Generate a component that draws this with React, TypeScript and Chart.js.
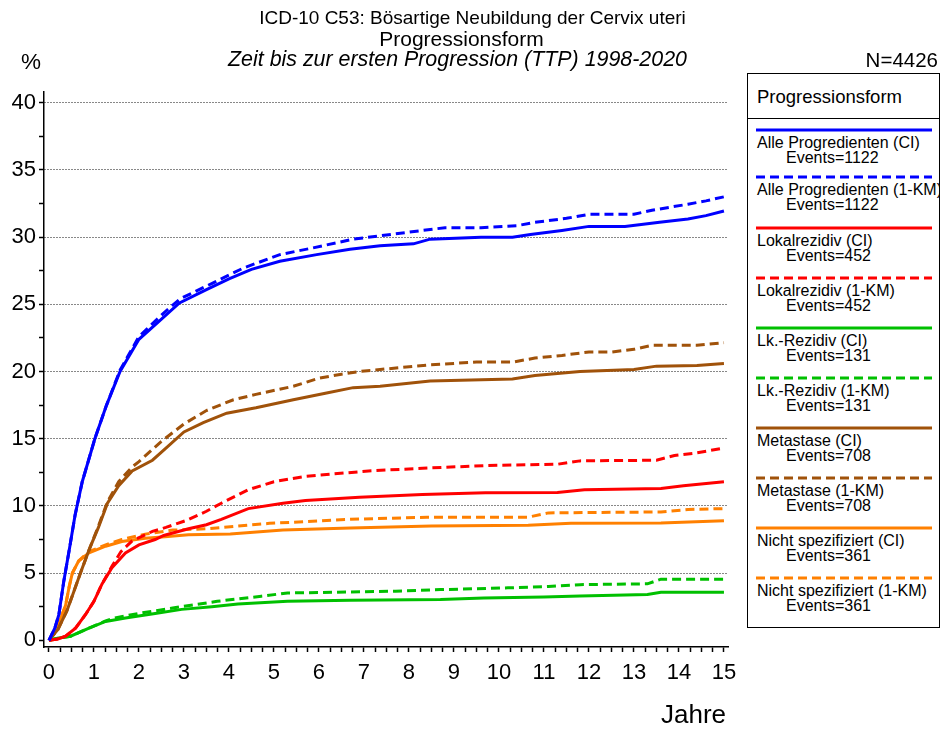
import React, { useEffect, useRef } from "react";
import { Chart, registerables } from "chart.js";

Chart.register(...registerables);

// ---- data (years, cumulative %) ----
const alleCiT = [0, 0.13, 0.22, 0.33, 0.46, 0.58, 0.74, 1.02, 1.28, 1.58, 2.0, 2.5, 2.9, 3.5, 4.0, 4.5, 5.13, 5.95, 6.69, 7.36, 8.1, 8.47, 9.6, 10.3, 10.7, 11.4, 12.0, 12.8, 13.57, 14.2, 14.6, 15.0];
const alleCiV = [0, 0.9, 1.9, 4.4, 6.9, 9.3, 11.8, 15.0, 17.5, 20.0, 22.4, 23.9, 25.1, 26.1, 26.9, 27.6, 28.2, 28.7, 29.1, 29.35, 29.5, 29.85, 30.0, 30.0, 30.2, 30.5, 30.8, 30.8, 31.1, 31.35, 31.6, 31.95];
const alleKmT = [0, 0.13, 0.22, 0.33, 0.46, 0.58, 0.74, 1.02, 1.28, 1.58, 2.0, 2.5, 2.91, 3.65, 4.32, 5.13, 5.87, 6.76, 7.36, 8.3, 8.8, 9.6, 10.4, 10.8, 11.5, 12.0, 13.0, 13.4, 14.2, 14.6, 15.0];
const alleKmV = [0, 0.9, 1.9, 4.4, 6.9, 9.3, 11.8, 15.0, 17.5, 20.1, 22.6, 24.2, 25.4, 26.6, 27.7, 28.7, 29.2, 29.85, 30.1, 30.5, 30.7, 30.7, 30.85, 31.1, 31.4, 31.7, 31.7, 32.0, 32.45, 32.7, 33.0];

const lokalCiT = [0, 0.2, 0.37, 0.59, 0.81, 1.0, 1.18, 1.4, 1.7, 2.0, 2.36, 2.55, 3.1, 3.5, 3.83, 4.43, 5.2, 5.7, 6.9, 8.3, 9.7, 11.3, 11.9, 13.6, 14.1, 15.0];
const lokalCiV = [0, 0.1, 0.3, 0.9, 1.9, 2.9, 4.2, 5.4, 6.5, 7.1, 7.5, 7.8, 8.3, 8.6, 9.0, 9.8, 10.2, 10.4, 10.65, 10.85, 10.97, 11.0, 11.2, 11.3, 11.5, 11.8];
const lokalKmT = [0, 0.2, 0.37, 0.59, 0.81, 1.0, 1.18, 1.4, 1.6, 1.85, 2.3, 2.6, 3.04, 3.5, 3.83, 4.43, 5.0, 5.7, 7.1, 8.3, 9.7, 11.3, 11.8, 13.5, 13.9, 14.3, 15.0];
const lokalKmV = [0, 0.1, 0.3, 0.9, 1.9, 2.9, 4.2, 5.5, 6.6, 7.4, 8.1, 8.4, 8.9, 9.6, 10.2, 11.2, 11.8, 12.2, 12.6, 12.8, 13.0, 13.1, 13.35, 13.4, 13.75, 13.9, 14.3];

const lkCiT = [0, 0.22, 0.48, 0.89, 1.26, 1.7, 2.36, 2.95, 3.62, 4.2, 5.3, 6.7, 8.7, 9.66, 11.0, 11.8, 13.3, 13.6, 15.0];
const lkCiV = [0, 0.17, 0.3, 0.9, 1.4, 1.66, 2.0, 2.3, 2.5, 2.7, 2.9, 2.98, 3.03, 3.15, 3.23, 3.3, 3.4, 3.58, 3.58];
const lkKmT = [0, 0.22, 0.48, 0.89, 1.26, 1.46, 2.0, 2.75, 3.74, 4.72, 5.3, 7.7, 8.7, 10.2, 11.1, 11.8, 13.3, 13.6, 15.0];
const lkKmV = [0, 0.17, 0.3, 0.9, 1.45, 1.66, 2.0, 2.4, 2.9, 3.28, 3.52, 3.65, 3.77, 3.9, 4.0, 4.14, 4.2, 4.55, 4.55];

const metaCiT = [0, 0.2, 0.4, 0.55, 0.7, 0.9, 1.1, 1.3, 1.55, 1.85, 2.3, 2.6, 3.0, 3.43, 3.95, 4.6, 5.43, 6.17, 6.76, 7.36, 8.47, 10.3, 10.8, 11.8, 13.0, 13.5, 14.4, 15.0];
const metaCiV = [0, 0.8, 2.2, 3.6, 5.0, 6.8, 8.4, 10.2, 11.5, 12.6, 13.4, 14.3, 15.5, 16.2, 16.9, 17.3, 17.9, 18.4, 18.8, 18.9, 19.3, 19.45, 19.7, 20.0, 20.15, 20.4, 20.45, 20.6];
const metaKmT = [0, 0.2, 0.4, 0.55, 0.7, 0.9, 1.1, 1.3, 1.55, 1.85, 2.0, 2.5, 3.0, 3.5, 4.1, 4.6, 5.43, 6.0, 6.5, 6.9, 7.36, 8.47, 9.5, 10.3, 10.8, 11.4, 12.0, 12.5, 13.0, 13.4, 14.4, 15.0];
const metaKmV = [0, 0.8, 2.2, 3.6, 5.0, 6.8, 8.5, 10.3, 11.8, 12.9, 13.3, 14.8, 16.1, 17.1, 17.9, 18.3, 18.9, 19.5, 19.8, 20.0, 20.15, 20.5, 20.7, 20.7, 21.0, 21.2, 21.45, 21.45, 21.65, 21.95, 21.95, 22.15];

const nichtCiT = [0, 0.18, 0.37, 0.45, 0.52, 0.66, 0.89, 1.26, 1.62, 2.14, 2.58, 3.1, 4.03, 5.2, 6.7, 8.5, 10.65, 11.6, 13.6, 15.0];
const nichtCiV = [0, 0.9, 2.6, 4.0, 5.0, 5.9, 6.5, 7.0, 7.35, 7.6, 7.7, 7.85, 7.9, 8.2, 8.36, 8.5, 8.56, 8.7, 8.73, 8.9];
const nichtKmT = [0, 0.18, 0.37, 0.45, 0.52, 0.66, 0.89, 1.26, 1.62, 2.14, 2.75, 3.5, 4.2, 4.9, 6.7, 8.4, 10.65, 11.1, 13.6, 14.2, 15.0];
const nichtKmV = [0, 0.9, 2.6, 4.0, 5.0, 5.9, 6.6, 7.1, 7.5, 7.9, 8.2, 8.3, 8.5, 8.7, 9.0, 9.16, 9.16, 9.48, 9.55, 9.73, 9.8];

const yTickValues = [0, 2.5, 5, 7.5, 10, 12.5, 15, 17.5, 20, 22.5, 25, 27.5, 30, 32.5, 35, 37.5, 40];
const xTickValues = [0, 0.25, 0.5, 0.75, 1, 1.25, 1.5, 1.75, 2, 2.25, 2.5, 2.75, 3, 3.25, 3.5, 3.75, 4, 4.25, 4.5, 4.75, 5, 5.25, 5.5, 5.75, 6, 6.25, 6.5, 6.75, 7, 7.25, 7.5, 7.75, 8, 8.25, 8.5, 8.75, 9, 9.25, 9.5, 9.75, 10, 10.25, 10.5, 10.75, 11, 11.25, 11.5, 11.75, 12, 12.25, 12.5, 12.75, 13, 13.25, 13.5, 13.75, 14, 14.25, 14.5, 14.75, 15];

const BLUE = "#0000ff";
const RED = "#ff0000";
const GREEN = "#00c000";
const BROWN = "#a0520a";
const ORANGE = "#ff8000";

const seriesDefs = [
  { label: "Alle Progredienten (CI)", events: "Events=1122", t: alleCiT, v: alleCiV, color: BLUE, dashed: false },
  { label: "Alle Progredienten (1-KM)", events: "Events=1122", t: alleKmT, v: alleKmV, color: BLUE, dashed: true },
  { label: "Lokalrezidiv (CI)", events: "Events=452", t: lokalCiT, v: lokalCiV, color: RED, dashed: false },
  { label: "Lokalrezidiv (1-KM)", events: "Events=452", t: lokalKmT, v: lokalKmV, color: RED, dashed: true },
  { label: "Lk.-Rezidiv (CI)", events: "Events=131", t: lkCiT, v: lkCiV, color: GREEN, dashed: false },
  { label: "Lk.-Rezidiv (1-KM)", events: "Events=131", t: lkKmT, v: lkKmV, color: GREEN, dashed: true },
  { label: "Metastase (CI)", events: "Events=708", t: metaCiT, v: metaCiV, color: BROWN, dashed: false },
  { label: "Metastase (1-KM)", events: "Events=708", t: metaKmT, v: metaKmV, color: BROWN, dashed: true },
  { label: "Nicht spezifiziert (CI)", events: "Events=361", t: nichtCiT, v: nichtCiV, color: ORANGE, dashed: false },
  { label: "Nicht spezifiziert (1-KM)", events: "Events=361", t: nichtKmT, v: nichtKmV, color: ORANGE, dashed: true },
];

const FONT = "'Liberation Sans', Arial, Helvetica, sans-serif";
const DASH = [9, 5];

function LegendLine({ color, dashed }: { color: string; dashed: boolean }) {
  return (
    <svg width={176} height={4} style={{ display: "block" }}>
      <line x1={0} y1={2} x2={176} y2={2} stroke={color} strokeWidth={3}
        strokeDasharray={dashed ? DASH.join(",") : undefined} />
    </svg>
  );
}

export default function App() {
  const canvasRef = useRef<HTMLCanvasElement | null>(null);

  useEffect(() => {
    if (!canvasRef.current) return;
    const chart = new Chart(canvasRef.current, {
      type: "line",
      data: {
        datasets: seriesDefs.map((s) => ({
          label: s.label,
          data: s.t.map((t, i) => ({ x: t, y: s.v[i] })),
          borderColor: s.color,
          backgroundColor: s.color,
          borderWidth: 3,
          borderDash: s.dashed ? DASH : [],
          pointRadius: 0,
          tension: 0,
          fill: false,
        })),
      },
      options: {
        animation: false,
        responsive: false,
        maintainAspectRatio: false,
        layout: { padding: { left: 0, top: 92, right: 213, bottom: 42 } },
        plugins: { legend: { display: false }, title: { display: false }, tooltip: { enabled: false } },
        scales: {
          x: {
            type: "linear",
            min: -0.11,
            max: 15.09,
            afterBuildTicks: (axis: any) => {
              axis.ticks = xTickValues.map((v) => ({ value: v }));
            },
            afterFit: (axis: any) => {
              axis.height = 40;
            },
            ticks: {
              autoSkip: false,
              maxRotation: 0,
              minRotation: 0,
              padding: 8,
              color: "#000",
              font: { family: FONT, size: 22 },
              callback: (v: any) => (Number.isInteger(v) ? String(v) : ""),
            },
            grid: {
              drawOnChartArea: false,
              drawTicks: true,
              tickLength: 5,
              tickColor: "#000",
              tickWidth: 1.5,
            },
            border: { display: true, color: "#000", width: 1.5 },
          },
          y: {
            type: "linear",
            min: -0.5,
            max: 40.8,
            afterBuildTicks: (axis: any) => {
              axis.ticks = yTickValues.map((v) => ({ value: v }));
            },
            afterFit: (axis: any) => {
              axis.width = 44;
            },
            ticks: {
              padding: 3,
              color: "#000",
              font: { family: FONT, size: 22 },
              callback: (v: any) => (v % 5 === 0 ? String(v) : ""),
            },
            grid: {
              drawOnChartArea: true,
              drawTicks: true,
              tickLength: 5,
              tickColor: "#000",
              tickWidth: 1.5,
              lineWidth: 1,
              color: (ctx: any) =>
                ctx.tick && ctx.tick.value % 5 === 0 && ctx.tick.value > 0 ? "#111" : "rgba(0,0,0,0)",
            },
            border: { display: true, color: "#000", width: 1.5, dash: [1, 2] },
          },
        },
      },
    } as any);
    return () => chart.destroy();
  }, []);

  const abs = (style: React.CSSProperties): React.CSSProperties => ({
    position: "absolute",
    fontFamily: FONT,
    color: "#000",
    whiteSpace: "nowrap",
    lineHeight: 1,
    ...style,
  });

  const legendLineY = [129, 176, 227, 277, 327, 377, 427, 477, 527, 577];

  return (
    <div style={{ position: "absolute", left: 0, top: 0, width: 941, height: 729, background: "#fff", overflow: "hidden" }}>
      <canvas ref={canvasRef} width={941} height={729} style={{ position: "absolute", left: 0, top: 0, width: 941, height: 729 }} />
      <div style={abs({ left: 0, width: 945, top: 8, textAlign: "center", fontSize: 19 })}>
        ICD-10 C53: Bösartige Neubildung der Cervix uteri
      </div>
      <div style={abs({ left: 0, width: 923, top: 28, textAlign: "center", fontSize: 21 })}>Progressionsform</div>
      <div style={abs({ left: 0, width: 915, top: 49, textAlign: "center", fontSize: 21.4, fontStyle: "italic" })}>
        Zeit bis zur ersten Progression (TTP) 1998-2020
      </div>
      <div style={abs({ left: 21, top: 51, fontSize: 22.5 })}>%</div>
      <div style={abs({ right: 3, top: 50, fontSize: 20.5 })}>N=4426</div>
      <div style={abs({ left: 661, top: 701, fontSize: 26 })}>Jahre</div>

      <div style={{ position: "absolute", left: 747, top: 73, width: 193, height: 555, border: "1.5px solid #000", boxSizing: "border-box", overflow: "hidden", background: "#fff" }}>
        <div style={abs({ left: 9, top: 14, fontSize: 18.5 })}>Progressionsform</div>
        <div style={{ position: "absolute", left: 0, top: 44, width: "100%", borderTop: "1.5px solid #000" }} />
        {seriesDefs.map((s, i) => {
          const y = legendLineY[i] - 73;
          return (
            <React.Fragment key={s.label}>
              <div style={{ position: "absolute", left: 8, top: y - 2 }}>
                <LegendLine color={s.color} dashed={s.dashed} />
              </div>
              <div style={abs({ left: 9, top: y + 5, fontSize: 16 })}>{s.label}</div>
              <div style={abs({ left: 38, top: y + 20, fontSize: 16 })}>{s.events}</div>
            </React.Fragment>
          );
        })}
      </div>
    </div>
  );
}
